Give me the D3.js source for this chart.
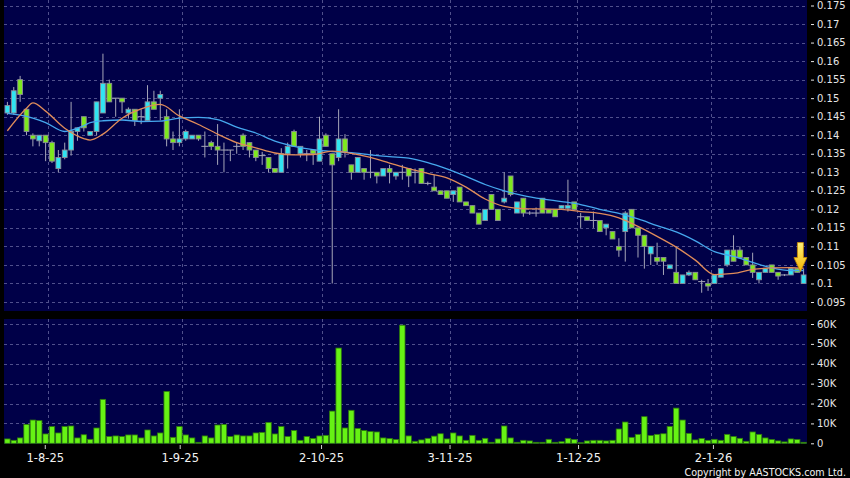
<!DOCTYPE html>
<html>
<head>
<meta charset="utf-8">
<script src="https://cdn.jsdelivr.net/npm/d3@7"></script>
<style>
  body { margin: 0; background: #000; }
  svg { display: block; }
  text { font-family: "DejaVu Sans", Verdana, sans-serif; }
</style>
</head>
<body>
<div id="chart"></div>
<script>
// daily candles, 23-Jul-2025 .. 22-Jan-2026
const opens = [
  .146,.146,.155,.147,.140,.1385,.140,.138,.131,.134,
  .136,.141,.145,.140,.141,.146,.154,.150,.150,.146,
  .147,.145,.144,.149,.150,.145,.139,.138,.139,.139,
  .140,.137,.138,.137,.136,.136,.137,.140,.138,.136,
  .1345,.134,.131,.130,.135,.141,.135,.135,.136,.133,
  .140,.135,.134,.139,.132,.130,.131,.130,.130,.129,
  .131,.129,.130,.131,.130,.131,.127,.126,.125,.125,
  .124,.126,.122,.121,.119,.117,.124,.120,.122,.129,
  .119,.123,.119,.119,.123,.120,.120,.1203,.1203,.122,
  .118,.118,.117,.117,.115,.114,.110,.114,.120,.115,
  .113,.108,.107,.107,.104,.103,.100,.1023,.103,.1005,
  .100,.100,.1017,.105,.109,.109,.107,.105,.101,.103,
  .105,.103,.1023,.1023,.104,.100
];
const highs = [
  .149,.153,.156,.147,.1405,.140,.140,.1385,.136,.138,
  .149,.142,.145,.141,.149,.162,.155,.150,.150,.1475,
  .147,.147,.1535,.152,.152,.147,.141,.147,.1415,.140,
  .140,.141,.1385,.143,.138,.136,.138,.1405,.138,.136,
  .1355,.134,.131,.1365,.138,.1415,.137,.136,.136,.145,
  .1405,.135,.147,.1403,.132,.134,.131,.136,.130,.131,
  .132,.130,.132,.131,.131,.131,.1275,.1293,.125,.125,
  .125,.126,.122,.121,.119,.120,.124,.120,.130,.129,
  .122,.123,.1195,.1205,.123,.120,.120,.121,.128,.122,
  .119,.118,.1194,.117,.116,.114,.1122,.1195,.120,.115,
  .113,.110,.111,.107,.105,.110,.1023,.1035,.103,.101,
  .1012,.1023,.104,.109,.113,.110,.107,.1083,.103,.104,
  .105,.103,.1025,.104,.104,.104
];
const lows = [
  .1455,.1455,.149,.140,.137,.137,.133,.1325,.130,.1335,
  .1345,.1385,.141,.140,.140,.146,.149,.145,.146,.1445,
  .1425,.143,.144,.147,.144,.137,.136,.137,.1385,.139,
  .1385,.134,.136,.132,.130,.133,.135,.136,.134,.133,
  .132,.130,.130,.130,.131,.137,.134,.133,.132,.133,
  .137,.100,.133,.134,.128,.130,.128,.1284,.127,.129,
  .127,.128,.128,.126,.127,.127,.1265,.125,.124,.123,
  .122,.122,.121,.119,.116,.117,.120,.117,.1216,.1235,
  .119,.118,.1185,.118,.119,.119,.118,.1203,.1194,.120,
  .115,.117,.115,.114,.113,.112,.1072,.1059,.115,.107,
  .104,.105,.105,.1023,.104,.100,.100,.102,.101,.0975,
  .098,.100,.1017,.1045,.106,.107,.105,.1015,.100,.103,
  .103,.101,.102,.1023,.103,.100
];
const closes = [
  .148,.152,.151,.141,.139,.140,.138,.133,.134,.136,
  .141,.142,.142,.141,.149,.154,.149,.150,.149,.147,
  .144,.145,.149,.147,.151,.139,.138,.139,.141,.140,
  .139,.137,.137,.136,.136,.136,.137,.137,.136,.134,
  .1345,.131,.130,.135,.137,.137,.137,.135,.135,.139,
  .137,.132,.139,.1355,.130,.134,.130,.130,.129,.131,
  .130,.130,.130,.129,.130,.127,.127,.125,.124,.123,
  .125,.122,.121,.119,.116,.120,.120,.117,.123,.124,
  .122,.119,.119,.119,.119,.119,.118,.121,.121,.120,
  .118,.117,.117,.114,.116,.112,.109,.119,.115,.113,
  .110,.110,.106,.106,.105,.100,.1023,.103,.101,.1005,
  .0993,.1023,.104,.109,.106,.107,.105,.103,.103,.104,
  .103,.102,.1023,.104,.103,.1023
];
// volume in thousands of shares
const volumesK = [
  2.2,1.5,2.7,9.5,11.7,11.4,4.7,8.4,5.2,8.4,
  8.7,2.7,4.3,2.0,7.7,22.1,3.4,3.7,3.4,4.2,
  4.2,2.7,6.7,3.7,5.2,26.1,3.0,8.4,4.2,2.7,
  0.5,3.7,2.7,9.2,9.5,3.4,4.2,3.7,3.7,5.2,
  5.5,10.5,4.7,8.4,3.4,6.4,1.5,3.4,2.4,3.7,
  4.0,16.2,47.9,7.7,16.6,7.5,6.4,5.9,5.7,2.7,
  2.4,1.9,59.4,3.7,1.0,1.7,2.5,3.6,4.8,2.2,
  5.2,3.7,1.5,4.0,1.5,2.5,0.5,2.2,8.7,2.7,
  0.5,1.5,1.2,0.5,0.5,2.0,0.5,0.8,2.5,1.9,
  0.3,1.2,1.5,1.5,1.2,1.5,7.2,10.7,3.0,4.5,
  13.4,3.9,4.5,4.8,8.5,17.7,11.7,5.0,1.7,2.4,
  1.5,2.0,1.5,4.5,3.4,2.5,1.0,5.7,4.5,2.7,
  1.9,1.2,0.7,2.2,1.9,0.5
];

// moving averages, sampled off the chart at these candle indexes
const maIdx = [0,3,4,6,9,12,13,15,18,21,24,27,30,33,36,39,42,45,48,51,54,57,60,63,66,69,
  72,75,78,81,84,87,90,93,96,99,102,105,108,111,114,117,120,123,125];
const maShort = [.1412,.1473,.1487,.1465,.1419,.1391,.1387,.1403,.1446,.1471,.1483,.1452,.1429,.1403,
  .1380,.1366,.1352,.1347,.1348,.1357,.1351,.1340,.1325,.1310,.1297,.1285,.1260,.1228,.1208,.1202,
  .1201,.1200,.1194,.1189,.1177,.1154,.1127,.1098,.1063,.1024,.1027,.1038,.1042,.1043,.1041];
const maLong = [.1459,.1451,.1446,.1434,.1410,.1426,.1434,.1439,.1441,.1437,.1438,.1446,.1448,.1442,
  .1422,.1406,.1384,.1370,.1361,.1356,.1353,.1347,.1342,.1338,.1326,.1309,.1289,.1267,.1250,.1237,
  .1228,.1221,.1213,.1200,.1189,.1174,.1156,.1139,.1115,.1086,.1073,.1057,.1042,.1035,.1035];

const dateLabels = ["1-8-25", "1-9-25", "2-10-25", "3-11-25", "1-12-25", "2-1-26"];
const dateIdx = [7, 28, 50, 70, 90, 111];
const priceTicks = [0.095, 0.1, 0.105, 0.11, 0.115, 0.12, 0.125, 0.13, 0.135, 0.14,
  0.145, 0.15, 0.155, 0.16, 0.165, 0.17, 0.175];
const volTicks = [0, 10, 20, 30, 40, 50, 60];

const width = 850, height = 478;
const panelL = 4, panelR = 807;
const priceTop = 0, priceBot = 311, volTop = 319, volBot = 444;

const n = closes.length;
const x = d3.scaleLinear().domain([0, n - 1]).range([7.4, 803.6]);
const xTick = d3.scaleLinear().domain([0, n - 1]).range([0.3, 803.4]);
const y = d3.scaleLinear().domain([0.095, 0.175]).range([302, 5.5]);
const yv = d3.scaleLinear().domain([0, 60]).range([443.3, 324]);

const svg = d3.select("#chart").append("svg")
  .attr("width", width).attr("height", height);

svg.append("rect").attr("width", width).attr("height", height).attr("fill", "#000");

// panels
svg.append("rect").attr("x", panelL).attr("y", priceTop)
  .attr("width", panelR - panelL).attr("height", priceBot - priceTop).attr("fill", "#000048");
svg.append("rect").attr("x", panelL).attr("y", volTop)
  .attr("width", panelR - panelL).attr("height", volBot - volTop).attr("fill", "#000048");

svg.append("defs").append("clipPath").attr("id", "priceClip")
  .append("rect").attr("x", panelL).attr("y", priceTop)
  .attr("width", panelR - panelL).attr("height", priceBot - priceTop);

const gridColor = "#50508c";

// horizontal grid
svg.append("g").selectAll("line").data(priceTicks).enter().append("line")
  .attr("x1", panelL).attr("x2", panelR)
  .attr("y1", d => Math.round(y(d)) + 0.5).attr("y2", d => Math.round(y(d)) + 0.5)
  .attr("stroke", gridColor).attr("stroke-dasharray", "3,3");

svg.append("g").selectAll("line").data(volTicks.filter(d => d > 0)).enter().append("line")
  .attr("x1", panelL).attr("x2", panelR)
  .attr("y1", d => Math.round(yv(d)) + 0.5).attr("y2", d => Math.round(yv(d)) + 0.5)
  .attr("stroke", gridColor).attr("stroke-dasharray", "3,3");

// vertical grid (month starts)
dateIdx.forEach(i => {
  const gx = Math.round(x(i) - 3.5) + 0.5;
  [[priceTop, priceBot], [volTop, volBot]].forEach(p => {
    svg.append("line").attr("x1", gx).attr("x2", gx).attr("y1", p[0]).attr("y2", p[1])
      .attr("stroke", gridColor).attr("stroke-dasharray", "3,3");
  });
});

// volume bars
svg.append("g").selectAll("rect").data(volumesK).enter().append("rect")
  .attr("x", (d, i) => x(i) - 2.7)
  .attr("width", 5.4)
  .attr("y", d => yv(d))
  .attr("height", d => yv(0) - yv(d))
  .attr("fill", "#66f214")
  .attr("stroke", "#2e7a0c")
  .attr("stroke-width", 0.8);

// candles
const candles = svg.append("g").attr("clip-path", "url(#priceClip)");
const cUp = "#30e4f2", cDown = "#7ee81e", wickColor = "#a6a6b8", edge = "#8c8c98";

closes.forEach((c, i) => {
  const o = opens[i], cx = x(i);
  candles.append("line")
    .attr("x1", cx).attr("x2", cx)
    .attr("y1", y(highs[i])).attr("y2", y(lows[i]))
    .attr("stroke", wickColor).attr("stroke-width", 1);
  const top = y(Math.max(o, c)), bot = y(Math.min(o, c));
  if (bot - top < 1.2) {
    candles.append("line")
      .attr("x1", cx - 3.5).attr("x2", cx + 3.5)
      .attr("y1", (top + bot) / 2).attr("y2", (top + bot) / 2)
      .attr("stroke", wickColor).attr("stroke-width", 1);
  } else {
    candles.append("rect")
      .attr("x", cx - 2.4).attr("width", 4.8)
      .attr("y", top).attr("height", bot - top)
      .attr("fill", c > o ? cUp : cDown)
      .attr("stroke", edge).attr("stroke-width", 0.9);
  }
});

// moving averages
const maLine = vals => d3.line()
  .x((d, k) => x(maIdx[k]))
  .y(d => y(d))
  .curve(d3.curveMonotoneX)(vals);

candles.append("path").attr("d", maLine(maLong))
  .attr("fill", "none").attr("stroke", "#46a8ee").attr("stroke-width", 1.3);
candles.append("path").attr("d", maLine(maShort))
  .attr("fill", "none").attr("stroke", "#e08c5a").attr("stroke-width", 1.3);

// latest marker arrow
const defs = svg.select("defs");
const grad = defs.append("linearGradient").attr("id", "arrowGrad")
  .attr("x1", "0%").attr("x2", "0%").attr("y1", "0%").attr("y2", "100%");
grad.append("stop").attr("offset", "0%").attr("stop-color", "#fff27a");
grad.append("stop").attr("offset", "100%").attr("stop-color", "#f4b400");

const tx = x(n - 1.5), ty = y(0.1032);
svg.append("path")
  .attr("d", `M${tx - 3},${ty - 29} L${tx + 3},${ty - 29} L${tx + 3},${ty - 14} L${tx + 6.5},${ty - 14}
    L${tx},${ty} L${tx - 6.5},${ty - 14} L${tx - 3},${ty - 14} Z`)
  .attr("fill", "url(#arrowGrad)").attr("stroke", "#c98a00").attr("stroke-width", 0.8);

// right axes
const labelColor = "#e6e6e6";
const fmtPrice = d => String(+d.toFixed(3));

const pAxis = svg.append("g");
priceTicks.forEach(t => {
  const ty0 = y(t);
  pAxis.append("line").attr("x1", 811).attr("x2", 814)
    .attr("y1", ty0 + 0.5).attr("y2", ty0 + 0.5).attr("stroke", labelColor);
  pAxis.append("text").attr("x", 817).attr("y", ty0).attr("dy", "0.36em")
    .attr("fill", labelColor).attr("font-size", "10px").text(fmtPrice(t));
});

const vAxis = svg.append("g");
volTicks.forEach(t => {
  const ty0 = yv(t);
  vAxis.append("line").attr("x1", 811).attr("x2", 814)
    .attr("y1", ty0 + 0.5).attr("y2", ty0 + 0.5).attr("stroke", labelColor);
  vAxis.append("text").attr("x", 817).attr("y", ty0).attr("dy", "0.36em")
    .attr("fill", labelColor).attr("font-size", "10px").text(t === 0 ? "0" : t + "K");
});

// date axis
const dAxis = svg.append("g");
dateIdx.forEach((i, k) => {
  const dx = xTick(i);
  dAxis.append("line").attr("x1", dx).attr("x2", dx).attr("y1", 445).attr("y2", 449)
    .attr("stroke", "#cfcfcf");
  dAxis.append("text").attr("x", dx).attr("y", 462).attr("text-anchor", "middle")
    .attr("fill", "#f2f2f2").attr("font-size", "11.5px").text(dateLabels[k]);
});

svg.append("text").attr("x", 846).attr("y", 475.5).attr("text-anchor", "end")
  .attr("fill", "#f2f2f2").attr("font-size", "9.6px")
  .text("Copyright by AASTOCKS.com Ltd.");
</script>
</body>
</html>
